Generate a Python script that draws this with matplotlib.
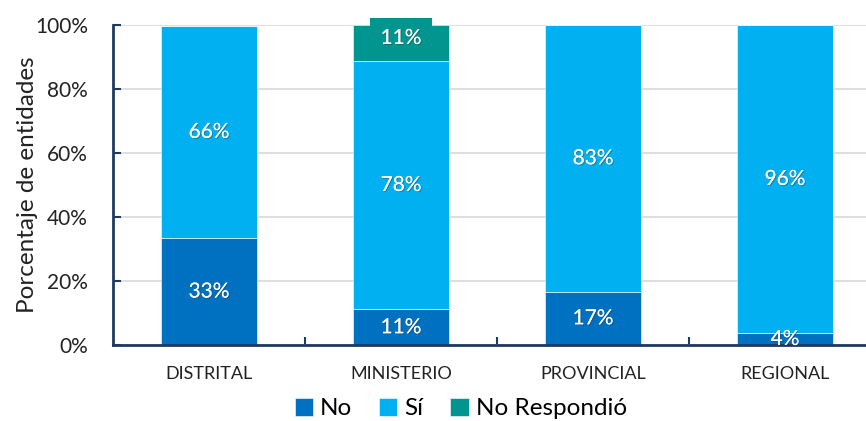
import matplotlib
matplotlib.use("Agg")
import matplotlib.pyplot as plt
import matplotlib.patheffects as pe
import numpy as np
from matplotlib.ticker import FuncFormatter

categories = ["DISTRITAL", "MINISTERIO", "PROVINCIAL", "REGIONAL"]
no_vals = [33.4, 11.1, 16.7, 3.8]
si_vals = [66.4, 77.8, 83.3, 96.2]
nr_vals = [0.0, 11.1, 0.0, 0.0]

c_no = "#0070C0"
c_si = "#00B0F0"
c_nr = "#00968F"
navy = "#1F3864"

plt.rcParams['font.family'] = ['Lato', 'DejaVu Sans']

fig = plt.figure(figsize=(8.66, 4.21), dpi=100)
ax = fig.add_axes([113 / 866, 76 / 421, 768 / 866, 320 / 421])

x = np.arange(len(categories))
no = np.array(no_vals)
si = np.array(si_vals)
nr = np.array(nr_vals)
w = 0.5

ax.bar(x, no, w, color=c_no, label="No", zorder=3, edgecolor="white", linewidth=0.4)
ax.bar(x, si, w, bottom=no, color=c_si, label="Sí", zorder=3, edgecolor="white", linewidth=0.4)
ax.bar(x, nr, w, bottom=no + si, color=c_nr, label="No Respondió", zorder=3, edgecolor="white", linewidth=0.4)

shadow = [pe.withSimplePatchShadow(offset=(0.8, -0.8), shadow_rgbFace="#333333", alpha=0.35), pe.Normal()]
fs = 15
for i in range(len(categories)):
    ax.text(x[i], no[i] / 2, f"{no[i]:.0f}%", ha="center", va="center", color="white",
            fontsize=fs, zorder=5, path_effects=shadow)
    ax.text(x[i], no[i] + si[i] / 2, f"{si[i]:.0f}%", ha="center", va="center", color="white",
            fontsize=fs, zorder=5, path_effects=shadow)
    if nr[i] > 0:
        ax.text(x[i], no[i] + si[i] + nr[i] / 2 + 1.5, f"{nr[i]:.0f}%", ha="center", va="center",
                color="white", fontsize=fs, zorder=5, path_effects=shadow,
                bbox=dict(boxstyle="square,pad=0.5", facecolor=c_nr, edgecolor="none"))

ax.set_ylim(0, 100)
ax.set_xlim(-0.5, 3.5)
ax.set_yticks(np.arange(0, 101, 20))
ax.yaxis.set_major_formatter(FuncFormatter(lambda v, p: f"{v:.0f}%"))
ax.set_xticks(x)
ax.set_xticklabels(categories, fontsize=13)
ax.set_xticks(np.arange(0.5, 3, 1), minor=True)
ax.tick_params(axis="x", which="major", length=0, pad=15, colors="#222222")
ax.tick_params(axis="x", which="minor", direction="in", length=6, width=1.5, color=navy)
ax.tick_params(axis="y", direction="in", length=6, width=1.5, color=navy, labelsize=15,
               pad=18, labelcolor="#222222")
ax.set_ylabel("Porcentaje de entidades", fontsize=17.5, color="#222222", labelpad=-2)

ax.grid(axis="y", color="#D9D9D9", linewidth=1.2, zorder=0)
for s in ["top", "right"]:
    ax.spines[s].set_visible(False)
for s in ["left", "bottom"]:
    ax.spines[s].set_color(navy)
    ax.spines[s].set_linewidth(2)
    ax.spines[s].set_zorder(4)

fig.legend(loc="lower center", bbox_to_anchor=(0.532, -0.048), ncol=3, frameon=False,
           fontsize=17.5, handlelength=0.75, handleheight=0.75, handletextpad=0.3,
           columnspacing=1.1)

fig.savefig("out.png", dpi=100)
